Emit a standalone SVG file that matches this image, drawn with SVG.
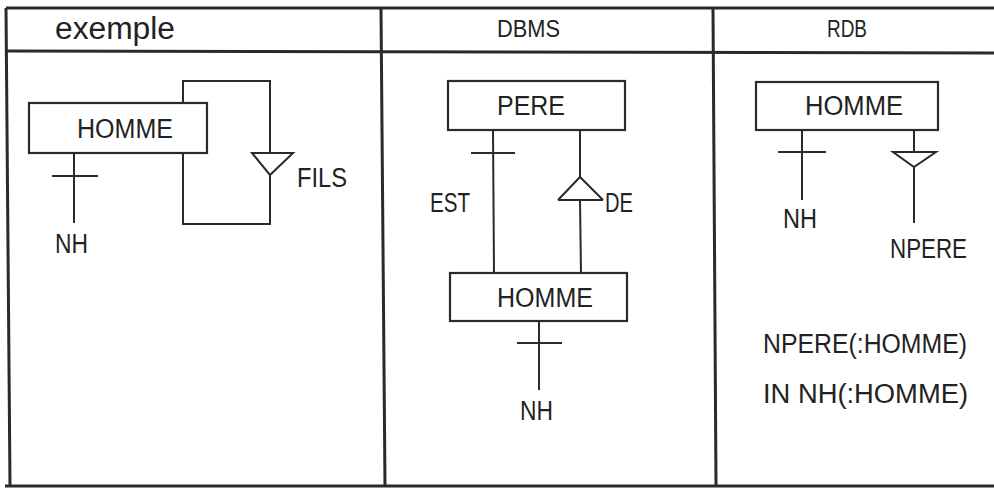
<svg xmlns="http://www.w3.org/2000/svg" width="994" height="488" viewBox="0 0 994 488">
<style>
.frame{stroke:#2a2a2a;stroke-width:3;fill:none}
.ln{stroke:#2a2a2a;stroke-width:2;fill:none}
.box{stroke:#2a2a2a;stroke-width:2.2;fill:none}
text{font-family:"Liberation Sans",Arial,sans-serif;fill:#222;font-size:27px}
.hd{font-size:23px}
</style>
<rect width="994" height="488" fill="#ffffff"/>
<g id="table">
<line class="frame" x1="6" y1="8" x2="994" y2="8"/>
<line class="frame" x1="6" y1="51" x2="994" y2="53"/>
<line class="frame" x1="5" y1="486" x2="994" y2="486"/>
<line class="frame" x1="6" y1="8" x2="10" y2="486"/>
<line class="frame" x1="381" y1="8" x2="385" y2="486"/>
<line class="frame" x1="713" y1="8" x2="716" y2="486"/>
<text x="55" y="39" style="font-size:31px" textLength="120" lengthAdjust="spacingAndGlyphs">exemple</text>
<text class="hd" x="497" y="37" textLength="63" lengthAdjust="spacingAndGlyphs">DBMS</text>
<text class="hd" x="827" y="37" textLength="40" lengthAdjust="spacingAndGlyphs">RDB</text>
</g>
<g id="connectors">
<!-- panel 1 -->
<line class="ln" x1="74" y1="153" x2="74" y2="223"/>
<line class="ln" x1="52" y1="176" x2="98" y2="176"/>
<polyline class="ln" points="183,103 183,81 270,81 270,153"/>
<polygon class="ln" points="252,153 293,153 270,175"/>
<polyline class="ln" points="270,175 270,224 183,224 183,153"/>
<!-- panel 2 -->
<line class="ln" x1="493" y1="130" x2="494" y2="273"/>
<line class="ln" x1="471" y1="153" x2="515" y2="153"/>
<line class="ln" x1="580" y1="130" x2="580" y2="177"/>
<polyline class="ln" points="558,200 580,177 603,200"/>
<line class="ln" x1="558" y1="200" x2="603" y2="200"/>
<line class="ln" x1="580" y1="200" x2="581" y2="273"/>
<line class="ln" x1="539" y1="321" x2="539" y2="390"/>
<line class="ln" x1="517" y1="343" x2="562" y2="343"/>
<!-- panel 3 -->
<line class="ln" x1="802" y1="130" x2="802" y2="200"/>
<line class="ln" x1="778" y1="152" x2="826" y2="152"/>
<line class="ln" x1="914" y1="130" x2="914" y2="152"/>
<polygon class="ln" points="893,152 936,152 914,167"/>
<line class="ln" x1="914" y1="167" x2="914" y2="223"/>
</g>
<g id="p1-homme">
<rect class="box" x="29" y="103" width="178" height="50"/>
<text x="77" y="138" textLength="96" lengthAdjust="spacingAndGlyphs">HOMME</text>
</g>
<g id="p1-nh"><text x="55" y="253" textLength="33" lengthAdjust="spacingAndGlyphs">NH</text></g>
<g id="p1-fils"><text x="297" y="187" textLength="50" lengthAdjust="spacingAndGlyphs">FILS</text></g>
<g id="p2-pere">
<rect class="box" x="448" y="81" width="177" height="49"/>
<text x="497" y="115" textLength="68" lengthAdjust="spacingAndGlyphs">PERE</text>
</g>
<g id="p2-est"><text x="430" y="212" textLength="40" lengthAdjust="spacingAndGlyphs">EST</text></g>
<g id="p2-de"><text x="605" y="212" textLength="28" lengthAdjust="spacingAndGlyphs">DE</text></g>
<g id="p2-homme">
<rect class="box" x="450" y="273" width="177" height="48"/>
<text x="497" y="307" textLength="96" lengthAdjust="spacingAndGlyphs">HOMME</text>
</g>
<g id="p2-nh"><text x="520" y="420" textLength="33" lengthAdjust="spacingAndGlyphs">NH</text></g>
<g id="p3-homme">
<rect class="box" x="756" y="82" width="182" height="48"/>
<text x="805" y="115" textLength="98" lengthAdjust="spacingAndGlyphs">HOMME</text>
</g>
<g id="p3-nh"><text x="783" y="228" textLength="34" lengthAdjust="spacingAndGlyphs">NH</text></g>
<g id="p3-npere"><text x="890" y="258" textLength="77" lengthAdjust="spacingAndGlyphs">NPERE</text></g>
<g id="p3-note">
<text x="763" y="353" textLength="204" lengthAdjust="spacingAndGlyphs">NPERE(:HOMME)</text>
<text x="763" y="403" textLength="205" lengthAdjust="spacingAndGlyphs">IN NH(:HOMME)</text>
</g>
</svg>
